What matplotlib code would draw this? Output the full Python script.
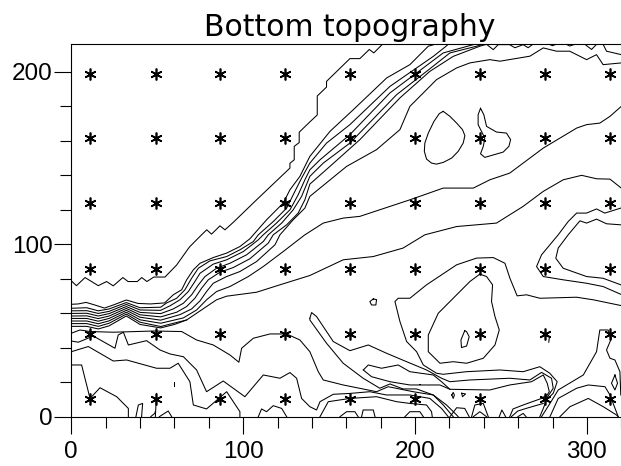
import numpy as np
import matplotlib
matplotlib.use("Agg")
import matplotlib.pyplot as plt
from matplotlib.ticker import MultipleLocator

# station grid
star_x = [11, 49, 86.5, 124.5, 162, 200, 238, 275.5, 313.5]
star_y = [10.5, 48, 85.7, 124, 161.5, 199]

# shelf edge contour
shelf = [(0,78.8),(3,76),(8,80.7),(15.7,76),(20.5,78.4),(24.4,75.9),(30,80.7),(33,78.4),(38.4,78.4),(41,80.7),
         (44,78.4),(48,81),(54.5,81),(61.3,88),(68,97.4),(69,98.7),(75.8,105.5),(78.8,108.4),(81.6,105.9),
         (86.5,110.7),(89.4,108.4),(94.2,112.7),(107.8,125.8),(127.2,144.2),(127.2,147),(129.7,149),(129.7,156.8),
         (132.6,159),(132.6,165),(138.8,171),(143.1,175),(143.1,186),(148.5,191.2),(148.5,194.5),(162.1,207.7),
         (167.9,207.7),(173.4,213),(176,211),(181,216)]

# slope band, top to bottom
t1 = [(0,65.2),(4,65.4),(8.6,66.3),(13,65),(19.3,63),(25,65),(32,67.7),(38.8,65.7),(46,65.4),(54.3,66),(59.3,70.7),(64.2,73.6),
      (67.1,79.4),(71,85.2),(74.9,89),(82.6,92.3),(90.4,94.9),(98.1,98.7),(103.9,103.2),(113.6,114.2),(123.3,123.9),
      (127.2,131.6),(133,139.4),(138.8,151),(150.5,165.5),(164,178),(183.5,196.5),(197,204.2),(207.7,214.9),(211.6,216)]
t2 = [(0,62.9),(9,63.2),(15.7,61.4),(22,62.5),(32,66.2),(40,63.2),(52,63.5),(55.5,66),(61.3,68.7),(66.1,73.6),(70,80.3),
      (73.9,86.1),(80.7,90.4),(90.4,92.9),(98.1,96.8),(105.9,101.6),(108.8,105.5),(117.5,113.2),(125.3,121),
      (130.1,130.7),(134,138.4),(138.8,147.1),(148.5,158.7),(162.1,169.4),(185.4,191.6),(200.9,202.3),(210.6,209),(218.7,215.4)]
t3 = [(0,61.4),(9,61.5),(15.7,59.9),(22,61.1),(32,65.1),(40,61.9),(52,61.7),(57.4,64.3),(63.2,67.8),(68.1,72.6),(71.9,78.4),
      (74.9,83.2),(82.6,88.5),(90.4,91),(100.1,95.8),(108.8,102.6),(111.7,105.5),(119.4,112.3),(127.2,120),(132,128.7),
      (135.9,137.4),(138.8,143.2),(144.7,149),(162.1,163.6),(185.4,187.8),(204.8,202.3),(216.4,211),(233.9,215.8)]
t4 = [(0,59.9),(9,60),(15.7,58.4),(22,59.8),(32,63.9),(40,60.5),(52,59.8),(59.3,62.5),(65.2,65.8),(70,70.7),(73.9,76.4),
      (77.8,81.3),(84.5,86.1),(92.3,89),(102,93.9),(111.7,101.6),(114.6,105.5),(122.4,112.3),(129.1,120),(134,127.8),
      (138.8,139.4),(146.6,147.1),(162.1,158.7),(189.3,186.8),(206.7,200.3),(220.3,211),(235.8,214.9),(239.6,216)]
t5 = [(0,58.4),(9,58.5),(15.7,56.9),(22,58.4),(32,62.8),(40,59.1),(52,57.9),(61.3,60.6),(67.1,63.9),(71.9,68.7),(75.8,74.5),
      (79.7,79.4),(86.5,83.8),(94.2,86.5),(103.9,91.6),(114.6,100.7),(117.5,105.5),(125.3,111.3),(132,118.1),(135.9,125.8),
      (138.8,134.9),(150.5,145.2),(167.9,160.7),(191.2,184.9),(208.6,200.3),(222.2,209),(237.7,214.9),(241.6,216)]
t6 = [(0,57),(9,57),(15.7,55.4),(22,57),(32,61.7),(40,57.7),(52,56),(63.2,59.2),(70,62.5),(74.9,67.2),(78.7,72.6),
      (82.6,77.4),(90.4,81.3),(98.1,84.2),(107.8,90),(118.5,99.7),(121.4,105.5),(129.1,114.2),(135.9,121),(138.8,127.8),
      (160.2,145.2),(177.6,154.9),(191.2,166.5),(197,180),(212.5,195.5),(224.2,202.3),(231.9,205.2),(243.5,207.1),
      (249.4,206.2),(266.8,209.1),(274.6,213.9),(282.3,212),(290,212),(299.8,207.1),(305.6,210),(309.4,204.2),(320,205.2)]
t7 = [(0,55.5),(9,55.5),(15.7,53.9),(22,55.6),(32,60.6),(40,56.2),(52,54.2),(65.2,57.3),(72.9,61.9),(78.7,67.8),(84.5,72.6),
      (92.3,75.5),(103,81.3),(111.7,87.1),(123.3,95.8),(135.9,105.5),(146.6,112.3),(158.2,115.2),(167.9,116.2),(197,125.8),
      (216.4,132.6),(233.9,132.6),(243.5,137.4),(255.1,141.3),(274.6,155.8),(294,167.4),(299.8,169.4),(307.5,170.3),
      (313.4,174.2),(320,180)]
t8 = [(0,54),(9,54),(15.7,52.4),(22,54.2),(32,59.5),(40,54.8),(52,52.3),(67.1,56.1),(72.9,60),(78.7,63.9),(84.5,67.8),
      (90.4,69.9),(107.8,72.2),(121.4,76.5),(138.8,81.9),(158.2,91),(175.7,92.9),(193,97.8),(205.7,105.5),(224.2,110.3),
      (247.4,112.3),(262.9,122),(274.6,130.7),(286.2,137.4),(296.9,140),(305.6,138),(313.4,137.8),(320,132.6)]
t9 = [(0,52.4),(9,52.4),(15.7,50.9),(22,52.7),(32,58.4),(40,53.5),(52,51.5),(60,53.5),(67.1,56.1)]

# wiggles along the top edge
top_a = [(241.6,216),(245.5,212.9),(248.4,215.8),(255,215.8),(258.1,214),(262.9,215.8),(265.8,214),(268.5,216)]
top_b = [(278,216),(280,215.2),(282,216)]
top_c = [(288,216),(290,215),(293,216)]
top_d = [(298.8,216),(302.7,213),(305.6,216)]
top_e = [(309.4,216),(311.4,212),(320,210)]

# closed highs upper right
pocket_a = [(216.4,177.1),(214.1,175.8),(211,171.3),(207.7,164.5),(205.7,158.7),(205.4,153.9),(206.7,149.4),(209.6,147.1),
            (212.5,146.5),(216.4,147.5),(221.3,150),(225.1,153.9),(228,158.7),(229,163),(227.6,166.5),(224.2,170.3),
            (220.3,174.2),(216.4,177.1)]
pocket_b = [(238.1,178.9),(236.7,175.2),(236.7,169.4),(240.6,161.6),(239.7,156.8),(238.1,152.5),(240.6,150.4),(251.3,153.5),
            (254.6,156.8),(255.6,160.7),(253.2,164.5),(247.4,165.1),(241.6,168.4),(240,175.2),(238.1,178.9)]

# hook at right edge
hook_out = [(319.7,121),(310.4,118.1),(305.6,120.5),(299.8,118.1),(294,118.1),(289.1,113.2),(283.3,105.5),(273.6,93.9),
            (270.7,87.1),(274.6,81.3),(286.2,79.4),(299.8,77.4),(309.4,75.5),(319.7,71)]
hook_in = [(319.7,111.3),(311.4,111.9),(305.6,114.6),(299.8,112.3),(295.9,113.6),(289.1,105.5),(283.3,97.8),(281.9,91.9),
           (286.2,86.1),(299.8,81.3),(309.4,80.3),(319.7,76.5)]

# middle feature
big_d = [(319.7,64.5),(303.7,67.8),(294,69.3),(272.6,68.7),(264.9,70.7),(259.4,70.1),(255.2,80.3),(252.3,89),(245.5,92.3),
         (235.8,92),(224.2,88.1),(206.7,76.5),(197,68.7),(190.2,68.7),(188.3,66.8),(191.2,55.2),(195.1,43.6),(200.9,37.7),
         (204.8,30),(212.5,25.2),(216.4,24.6),(229.9,26.1),(249.4,27.1),(262.9,26.1),(272.6,29),(278.4,25.2),(282.7,20.3),
         (280.4,13.6),(276.5,9.7),(274.6,4.8),(272.6,0)]
big_inner = [(237.7,82.7),(231.9,78.4),(222.2,68.7),(213.5,60),(207.7,47.4),(207.7,37.7),(214.5,31),(222.2,31.9),(230,31),
             (239.7,33.9),(246.5,41.6),(249,50.3),(246.5,58.1),(244.5,66.8),(245.1,76.5),(241.6,81.3),(237.7,82.7)]
tiny_a = [(228.9,49.9),(226.7,44.5),(227,40.1),(230,41),(231.5,46.4),(230,49.3),(228.9,49.9)]
tiny_b = [(175.7,68.3),(173.7,66.8),(174.7,64.8),(177.2,64.8),(177.6,67.9),(175.7,68.3)]
tiny_c = [(276.9,46.5),(278.2,46.5),(277.8,43.2)]

# lower left lines
c1 = [(0,48.4),(5,50.3),(10.9,49.4),(24.4,49),(47.7,49.7),(64.2,49.4),(72.9,44.5),(82.6,41.6),(92.3,35.8),(97.5,31.6),
      (99.1,39.7),(105.9,45.5),(115.6,48),(125.3,48),(133,44.5),(138.8,37.7),(143.7,26.1),(146.6,21.3),(158.2,18.4),
      (177.6,14.5),(184.4,17.4),(198.9,14.5),(210.6,12.6),(216.4,6.8),(222.2,0)]
c2 = [(0,43.9),(4.1,43.2),(12.8,46.8),(25.4,39.7),(27.3,47.4),(30.3,49),(33.2,41.6),(43.8,44.1),(51.6,38.7),(57.4,36.4),
      (65.2,34.8),(72.9,27.1),(78.7,14.5),(88.4,20.7),(101,11.6),(111.7,24.2),(121.4,22.3),(127.2,25.6),(131.1,22.3),
      (134,10.6),(138.8,5.8),(142.7,3.9),(144.7,8.7),(152.4,13),(162.1,13.5),(173.7,14.5),(183.4,12.6),(197,12.6),
      (208.6,10.6),(215.4,4.8),(219.3,0)]
c3 = [(0,37.7),(9.9,40.7),(24.4,32.3),(32.2,32.9),(49.6,28.1),(57.4,28.1),(62.2,31),(69,20.3),(71,6.8),(78.7,4.5),
      (90.4,14.5),(98.1,2.9),(98.1,0)]
c4 = [(0,30),(6,30),(10.9,10.6),(16.7,16.8),(26.4,11.6),(33.2,4.8),(33.2,0)]
c5_top = [(138.8,57.1),(139.8,60.4),(142.7,58.1),(152.4,43.6),(162.1,38.3),(172.8,41.6),(183.4,36.8),(195.1,31.9),(206.7,27.1),
          (215.4,22.3),(220.3,20.3),(231.9,21.3),(255.1,22.3),(266.8,21.3),(273.6,25.7),(279.4,22.3),(280.4,16.5),(276.5,10.6)]
c5_low = [(138.8,57.1),(138.8,56.1),(148.5,42.6),(158.2,31),(169.8,22.3),(179.5,16.5),(185.4,19),(193,16.1),(200.9,16.1),
          (210.6,12.6),(218.3,6.8),(224.2,1),(225.1,0)]
e_top = [(169.9,27.1),(172.8,30),(180.5,28.1),(190.2,30),(197,26.1),(210.6,24.2),(215.4,20.3),(220.3,15.9),(243.5,15.5),
         (255.1,18.4),(267.8,20.3),(274.6,24.2),(276.9,19.4),(278.1,14.5),(275.6,10.6)]
e_low = [(169.9,27.1),(174.7,23.2),(185.4,20.3),(197,18.4),(214.5,18.4),(220.3,15.9)]

# bumps on the bottom edge
b1 = [(37.6,0),(39,6.8),(41.5,7.7),(40.9,0)]
b2 = [(49.6,13.5),(48.9,0)]
b3 = [(46.2,0),(48.5,1.9),(48.9,3)]
b4 = [(51.2,0),(56.4,3.3),(58.4,0)]
b5 = [(59.7,19.9),(59.7,18)]
b6 = [(108.8,0),(110.7,4.5),(113.6,2.9),(117.5,6.4),(122.4,4.8),(125.3,0)]
b7 = [(144.7,0),(149.5,8.7),(162.1,10.6),(177.6,11.6),(189.3,8.7),(197,7.7),(206.7,6.8),(209.6,2.9),(210,0)]
b8 = [(156.3,0),(160.2,2.9),(165,2.9),(166.9,0)]
b9 = [(168.9,0),(169.8,3.9),(175.7,3.9),(176.7,0)]
b10 = [(194.1,0),(197,2.9),(202.8,2.9),(204.8,0)]
b11 = [(220.3,0),(224.2,5.2),(228.9,4.8),(231.5,0)]
b12 = [(232.9,0),(234.8,6.8),(239.7,7.7),(242.6,0)]
b13 = [(233.9,0),(237.7,2.9),(241.6,0)]
b14 = [(249,0),(250.5,3.9),(252.7,0)]
b15 = [(255.1,0),(257,4.5),(262.9,6.8),(273.6,10.6),(276.5,12.6)]
b16 = [(256,0),(259.8,3.3),(264.6,4.8),(274.6,7.7)]
b17 = [(259.8,0),(262.9,1.9),(264.6,0)]
b18 = [(221.4,12.6),(222.2,14.1),(222.9,12.6),(222.2,10.6),(221.4,12.6)]
b19 = [(227.1,13.6),(229.4,13.2),(227.6,11.6),(227.1,13.6)]
b20 = [(202.5,19),(203.1,19)]

# lower right
r1 = [(278.5,0),(283.3,10.6),(294,16.5),(300.8,18.4),(310.5,17.4),(313.4,12.6),(318.2,0)]
r2 = [(284.3,0),(290.1,5.8),(300.8,10.6),(309.5,5.8),(317.2,1),(318.2,0)]
r3 = [(273.6,0),(278.5,7.7),(283.3,15.5),(297.9,24.2),(305.6,37.7),(307.5,50.3),(312.3,50.3),(314.3,45.5),(311.4,38.7),
      (313.4,33.9),(316.3,32.9),(319.2,26.1),(319.7,12.6)]
r4 = [(316.3,24.2),(314.3,19.4),(316.3,15.5),(317.8,19.4),(316.3,24.2)]

lines = [shelf, t1, t2, t3, t4, t5, t6, t7, t8, t9, top_a, top_b, top_c, top_d, top_e,
         pocket_a, pocket_b, hook_out, hook_in, big_d, big_inner, tiny_a, tiny_b, tiny_c,
         c1, c2, c3, c4, c5_top, c5_low, e_top, e_low,
         b1, b2, b3, b4, b5, b6, b7, b8, b9, b10, b11, b12, b13, b14, b15, b16, b17, b18, b19, b20,
         r1, r2, r3, r4]

plt.rcParams["font.family"] = ["Liberation Sans", "DejaVu Sans"]

fig = plt.figure(figsize=(6.21, 4.66), dpi=100)
ax = fig.add_axes([71.3/621, (466-416.7)/466, 550/621, (416.7-44.3)/466])

for l in lines:
    xy = np.array(l)
    ax.plot(xy[:,0], xy[:,1], color="black", lw=0.75, solid_joinstyle="round")

sx, sy = np.meshgrid(star_x, star_y)
ax.plot(sx.ravel(), sy.ravel(), ls="none", marker=(6,2,0), ms=8.5, mew=1.2, color="black")

ax.set_xlim(0, 320)
ax.set_ylim(0, 216)
ax.xaxis.set_major_locator(MultipleLocator(100))
ax.xaxis.set_minor_locator(MultipleLocator(20))
ax.yaxis.set_major_locator(MultipleLocator(100))
ax.yaxis.set_minor_locator(MultipleLocator(20))
ax.tick_params(which="major", length=12.2, width=0.8, labelsize=17.5, pad=1)
ax.tick_params(which="minor", length=8, width=0.8)
ax.tick_params(axis="x", which="major", pad=5)
ax.spines["right"].set_visible(False)

fig.text(349.5/621, 1-36/466, "Bottom topography", family="DejaVu Sans", fontsize=21.5, ha="center", va="baseline")

fig.savefig("out.png", dpi=100)
